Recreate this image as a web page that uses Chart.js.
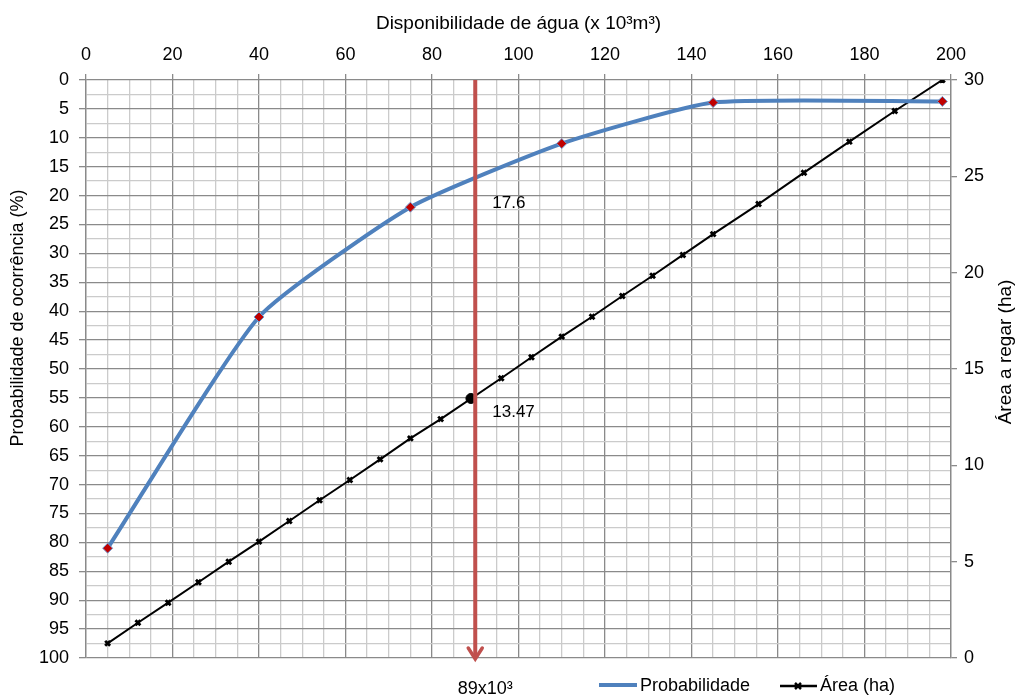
<!DOCTYPE html>
<html>
<head>
<meta charset="utf-8">
<script src="https://cdn.jsdelivr.net/npm/chart.js@4.4.1/dist/chart.umd.min.js"></script>
<style>
  html, body { margin: 0; padding: 0; background: #ffffff; }
  #wrap { width: 1019px; height: 697px; position: relative; }
</style>
</head>
<body>
<div id="wrap"><canvas id="c"></canvas></div>
<script>
// ---- Data ----
const aguaProb = [5, 40, 75, 110, 145, 198];               // x (10^3 m3)
const probabilidade = [81, 41, 22, 11, 3.9, 3.7];          // %
const aguaArea = [5, 12, 19, 26, 33, 40, 47, 54, 61, 68, 75, 82, 96, 103, 110, 117, 124, 131, 138, 145, 155.5, 166, 176.5, 187, 198];
const area = [0.76, 1.83, 2.87, 3.93, 5.0, 6.04, 7.11, 8.19, 9.24, 10.31, 11.4, 12.4, 14.52, 15.61, 16.68, 17.71, 18.79, 19.84, 20.92, 22.0, 23.56, 25.19, 26.8, 28.39, 30.0];
const pontoAgua = [89];
const pontoArea = [13.47];
const linhaX = [90];            // red reference line position on x axis
const linhaY = [0, 100];        // spans the whole probability axis
const rotuloProb = '17.6';
const rotuloArea = '13.47';
const rotuloAgua = '89x10³';

const FONT = "'Liberation Sans', Arial, sans-serif";
const MAJOR = '#8a8a8a';
const MINOR = '#cbcbcb';

const pts = (xs, ys) => xs.map((x, i) => ({ x: x, y: ys[i] }));

const extras = {
  id: 'extras',
  afterDatasetsDraw(chart) {
    const ctx = chart.ctx;
    const xs = chart.scales.x, yl = chart.scales.yL, yr = chart.scales.yR;
    const ca = chart.chartArea;
    const px = xs.getPixelForValue(linhaX[0]);
    // arrow head
    ctx.save();
    ctx.strokeStyle = '#C0504D';
    ctx.lineWidth = 3.5;
    ctx.lineCap = 'round';
    ctx.beginPath();
    ctx.moveTo(px - 7, ca.bottom - 10);
    ctx.lineTo(px, ca.bottom + 1);
    ctx.lineTo(px + 7, ca.bottom - 10);
    ctx.stroke();
    ctx.restore();

    ctx.save();
    ctx.fillStyle = '#000';
    ctx.font = '17px ' + FONT;
    ctx.textBaseline = 'middle';
    ctx.textAlign = 'left';
    ctx.fillText(rotuloProb, px + 17, yl.getPixelForValue(parseFloat(rotuloProb)) + 22);
    ctx.fillText(rotuloArea, px + 17, yr.getPixelForValue(parseFloat(rotuloArea)) + 14);
    ctx.textAlign = 'center';
    ctx.font = '18px ' + FONT;
    ctx.fillText(rotuloAgua, px + 10, 689);

    // y axis titles (both read bottom-to-top)
    ctx.save();
    ctx.translate(18, 318);
    ctx.rotate(-Math.PI / 2);
    ctx.fillText('Probabilidade de ocorrência (%)', 0, 0);
    ctx.restore();
    ctx.save();
    ctx.translate(1006, 352);
    ctx.rotate(-Math.PI / 2);
    ctx.font = '19px ' + FONT;
    ctx.fillText('Área a regar (ha)', 0, 0);
    ctx.restore();

    // legend
    ctx.lineCap = 'butt';
    ctx.strokeStyle = '#4F81BD';
    ctx.lineWidth = 4;
    ctx.beginPath(); ctx.moveTo(599, 685); ctx.lineTo(637, 685); ctx.stroke();
    ctx.strokeStyle = '#000';
    ctx.lineWidth = 2.5;
    ctx.beginPath(); ctx.moveTo(780, 686); ctx.lineTo(817, 686); ctx.stroke();
    ctx.lineWidth = 2.5;
    ctx.beginPath();
    ctx.moveTo(795, 683); ctx.lineTo(801, 689);
    ctx.moveTo(801, 683); ctx.lineTo(795, 689);
    ctx.stroke();
    ctx.textAlign = 'left';
    ctx.fillText('Probabilidade', 640, 686);
    ctx.fillText('Área (ha)', 820, 686);
    ctx.restore();
  }
};

new Chart(document.getElementById('c'), {
  type: 'line',
  data: {
    datasets: [
      {
        label: 'linha',
        data: pts([linhaX[0], linhaX[0]], linhaY),
        yAxisID: 'yL',
        borderColor: '#C0504D',
        borderWidth: 4,
        pointRadius: 0,
        order: 0
      },
      {
        label: 'ponto',
        data: pts(pontoAgua, pontoArea),
        yAxisID: 'yR',
        showLine: false,
        pointStyle: 'circle',
        pointRadius: 5,
        pointBackgroundColor: '#000',
        pointBorderColor: '#000',
        order: 1
      },
      {
        label: 'Probabilidade',
        data: pts(aguaProb, probabilidade),
        yAxisID: 'yL',
        borderColor: '#4F81BD',
        borderWidth: 4,
        tension: 0.17,
        pointStyle: 'rectRot',
        pointRadius: 5,
        pointBackgroundColor: '#C00000',
        pointBorderColor: '#6F9BD1',
        pointBorderWidth: 1,
        order: 2
      },
      {
        label: 'Área (ha)',
        data: pts(aguaArea, area),
        yAxisID: 'yR',
        borderColor: '#000',
        borderWidth: 2,
        tension: 0,
        pointStyle: 'crossRot',
        pointRadius: 3.5,
        pointBorderColor: '#000',
        pointBorderWidth: 2.8,
        order: 3
      }
    ]
  },
  options: {
    responsive: true,
    maintainAspectRatio: false,
    animation: false,
    events: [],
    layout: { padding: { left: 0, right: 0, top: 0, bottom: 39 } },
    plugins: { legend: { display: false }, tooltip: { enabled: false } },
    scales: {
      x: {
        type: 'linear',
        position: 'top',
        min: 0, max: 200,
        afterFit: s => { s.height = 80; },
        ticks: {
          stepSize: 5, autoSkip: false, maxRotation: 0, padding: 8,
          color: '#000', font: { family: FONT, size: 18 },
          callback: v => (v % 20 === 0 ? String(v) : '')
        },
        grid: {
          color: c => (c.tick && c.tick.value % 20 === 0 ? MAJOR : MINOR),
          tickColor: c => (c.tick && c.tick.value % 20 === 0 ? MAJOR : 'rgba(0,0,0,0)'),
          lineWidth: 1.3,
          tickLength: 6
        },
        border: { display: false },
        title: {
          display: true,
          text: 'Disponibilidade de água (x 10³m³)',
          color: '#000',
          font: { family: FONT, size: 19 },
          padding: { top: 12, bottom: 0 }
        }
      },
      yL: {
        type: 'linear',
        position: 'left',
        reverse: true,
        min: 0, max: 100,
        afterFit: s => { s.width = 86; },
        ticks: {
          stepSize: 2.5, autoSkip: false, padding: 10,
          color: '#000', font: { family: FONT, size: 18 },
          callback: v => (v % 5 === 0 ? String(v) : '')
        },
        grid: {
          color: c => (c.tick && c.tick.value % 5 === 0 ? MAJOR : MINOR),
          tickColor: c => (c.tick && c.tick.value % 5 === 0 ? MAJOR : 'rgba(0,0,0,0)'),
          lineWidth: 1.3,
          tickLength: 7
        },
        border: { display: true, color: MAJOR, width: 1.3 }
      },
      yR: {
        type: 'linear',
        position: 'right',
        min: 0, max: 30,
        afterFit: s => { s.width = 68; },
        ticks: {
          stepSize: 5, padding: 7,
          color: '#000', font: { family: FONT, size: 18 }
        },
        grid: { drawOnChartArea: false, color: MAJOR, tickLength: 6, lineWidth: 1.3 },
        border: { display: true, color: MAJOR, width: 1.3 }
      }
    }
  },
  plugins: [extras]
});
</script>
</body>
</html>
